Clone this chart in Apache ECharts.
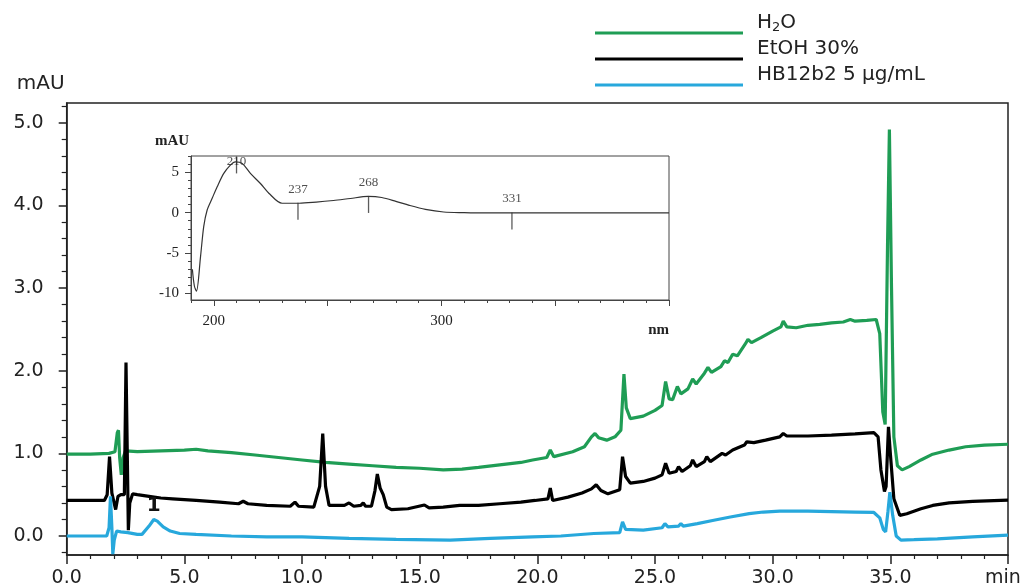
<!DOCTYPE html>
<html>
<head>
<meta charset="utf-8">
<script src="https://cdn.jsdelivr.net/npm/echarts@6/dist/echarts.min.js"></script>
<style>
  html, body { margin: 0; padding: 0; background: #fff; overflow: hidden; }
  #chart { width: 1032px; height: 588px; }
</style>
</head>
<body>
<div id="chart"></div>
<script>
// chromatograms (time in min, absorbance in mAU)
const h2oTime = [0, 1.0, 1.8, 2.05, 2.15, 2.2, 2.25, 2.32, 2.4, 2.5, 3.0, 4.0, 5.0, 5.5, 6.0, 7.0, 8.0, 9.0, 10.0, 11.0, 12.0, 13.0, 14.0, 15.0, 16.0, 16.8, 17.5, 18.4, 19.3, 19.8, 20.4, 20.55, 20.7, 21.5, 22.0, 22.3, 22.45, 22.6, 22.95, 23.3, 23.55, 23.68, 23.78, 23.95, 24.5, 25.0, 25.3, 25.45, 25.6, 25.75, 25.95, 26.1, 26.4, 26.6, 26.75, 27.1, 27.25, 27.4, 27.8, 27.95, 28.1, 28.3, 28.5, 28.85, 28.95, 29.1, 29.5, 30.0, 30.35, 30.45, 30.6, 31.0, 31.5, 32.0, 32.5, 33.0, 33.3, 33.5, 34.0, 34.4, 34.55, 34.68, 34.78, 34.88, 34.96, 35.05, 35.15, 35.3, 35.5, 35.8, 36.3, 36.8, 37.5, 38.2, 39.0, 40.0];
const h2oAbs = [0.99, 0.99, 1.0, 1.02, 1.25, 1.28, 0.95, 0.74, 0.95, 1.03, 1.02, 1.03, 1.04, 1.05, 1.03, 1.01, 0.98, 0.95, 0.92, 0.89, 0.87, 0.85, 0.83, 0.82, 0.8, 0.81, 0.83, 0.86, 0.89, 0.92, 0.95, 1.04, 0.96, 1.02, 1.08, 1.2, 1.24, 1.19, 1.16, 1.2, 1.28, 1.96, 1.55, 1.42, 1.45, 1.52, 1.58, 1.87, 1.66, 1.65, 1.81, 1.72, 1.78, 1.9, 1.84, 1.97, 2.04, 1.98, 2.05, 2.12, 2.1, 2.2, 2.18, 2.33, 2.38, 2.34, 2.4, 2.48, 2.53, 2.6, 2.53, 2.52, 2.55, 2.56, 2.58, 2.59, 2.62, 2.6, 2.61, 2.62, 2.45, 1.5, 1.35, 3.5, 4.92, 3.0, 1.2, 0.85, 0.8, 0.84, 0.92, 0.99, 1.04, 1.08, 1.1, 1.11];

const etohTime = [0, 1.6, 1.72, 1.82, 1.92, 2.0, 2.08, 2.18, 2.3, 2.45, 2.52, 2.56, 2.62, 2.68, 2.8, 3.0, 3.5, 4.0, 4.5, 5.5, 6.5, 7.3, 7.5, 7.7, 8.5, 9.5, 9.7, 9.85, 10.5, 10.75, 10.88, 11.0, 11.15, 11.8, 12.0, 12.2, 12.5, 12.6, 12.7, 12.95, 13.1, 13.2, 13.32, 13.45, 13.6, 13.8, 14.5, 15.2, 15.4, 16.0, 16.7, 17.5, 18.4, 19.3, 19.9, 20.45, 20.55, 20.65, 21.3, 21.9, 22.3, 22.5, 22.7, 23.0, 23.5, 23.62, 23.75, 23.95, 24.5, 25.0, 25.3, 25.45, 25.6, 25.9, 26.0, 26.15, 26.5, 26.6, 26.75, 27.1, 27.2, 27.35, 27.7, 27.85, 28.0, 28.3, 28.8, 28.9, 29.2, 29.7, 30.3, 30.45, 30.6, 31.5, 32.5, 33.5, 34.3, 34.48, 34.6, 34.75, 34.82, 34.92, 35.0, 35.15, 35.4, 35.7, 36.3, 36.8, 37.5, 38.5, 40.0];
const etohAbs = [0.43, 0.43, 0.5, 0.96, 0.52, 0.5, 0.32, 0.48, 0.5, 0.5, 2.1, 2.1, 0.07, 0.4, 0.51, 0.5, 0.48, 0.46, 0.45, 0.43, 0.41, 0.39, 0.42, 0.39, 0.37, 0.36, 0.41, 0.36, 0.35, 0.6, 1.24, 0.6, 0.37, 0.37, 0.4, 0.36, 0.37, 0.4, 0.36, 0.36, 0.55, 0.75, 0.58, 0.5, 0.35, 0.32, 0.33, 0.375, 0.34, 0.35, 0.37, 0.37, 0.39, 0.41, 0.43, 0.45, 0.58, 0.43, 0.47, 0.52, 0.57, 0.62, 0.55, 0.51, 0.56, 0.96, 0.72, 0.64, 0.66, 0.7, 0.74, 0.88, 0.76, 0.78, 0.84, 0.78, 0.85, 0.92, 0.84, 0.9, 0.96, 0.9, 0.97, 1.0, 0.98, 1.04, 1.1, 1.14, 1.13, 1.16, 1.2, 1.24, 1.21, 1.21, 1.22, 1.235, 1.25, 1.2, 0.8, 0.54, 0.6, 1.32, 1.0, 0.45, 0.25, 0.27, 0.33, 0.37, 0.4, 0.42, 0.435];

const hbTime = [0, 1.7, 1.8, 1.86, 1.92, 1.96, 2.02, 2.12, 2.3, 2.6, 3.0, 3.2, 3.5, 3.7, 3.85, 4.1, 4.4, 4.8, 5.5, 7.0, 8.5, 10.0, 12.0, 14.0, 16.3, 18.0, 19.8, 21.0, 22.4, 23.5, 23.62, 23.75, 24.5, 25.3, 25.42, 25.55, 26.0, 26.1, 26.2, 26.8, 27.5, 28.2, 29.0, 29.6, 30.3, 31.5, 32.5, 33.5, 34.3, 34.55, 34.7, 34.8, 34.9, 34.98, 35.1, 35.25, 35.45, 36.0, 37.0, 38.5, 40.0];
const hbAbs = [0.0, 0.0, 0.1, 0.48, 0.1, -0.22, -0.05, 0.06, 0.05, 0.04, 0.02, 0.02, 0.12, 0.2, 0.18, 0.11, 0.06, 0.03, 0.02, 0.0, -0.01, -0.01, -0.03, -0.04, -0.05, -0.03, -0.01, 0.0, 0.03, 0.04, 0.17, 0.08, 0.07, 0.1, 0.15, 0.11, 0.12, 0.15, 0.12, 0.15, 0.19, 0.23, 0.27, 0.29, 0.3, 0.3, 0.295, 0.29, 0.285, 0.22, 0.08, 0.05, 0.3, 0.53, 0.25, 0.0, -0.05, -0.045, -0.035, -0.01, 0.01];

const peakOne = [3.7, 0.2];

// UV spectrum inset
const spectrumNm = [190.6, 191.5, 192.4, 194.2, 195.6, 197.1, 199.3, 201.5, 204.4, 207.3, 209.5, 212.5, 216.1, 220.5, 224.2, 230, 237.5, 245, 252.6, 260, 267.8, 273.8, 280, 285.9, 293, 301, 310, 319, 340, 360, 380, 400];
const spectrumAbs = [-7, -9.1, -9.7, -5.4, -1.7, 0.33, 1.77, 3.2, 4.85, 5.87, 6.27, 6.07, 4.85, 3.6, 2.4, 1.16, 1.16, 1.3, 1.5, 1.75, 2.0, 1.87, 1.4, 0.9, 0.4, 0.08, 0.0, -0.04, -0.04, -0.04, -0.04, -0.04];
const peakNm = [210, 237, 268, 331];
const peakAbs = [6.27, 1.16, 2.0, -0.04];

// ticks
const yMajor = [0, 1, 2, 3, 4, 5];
const yMinor = [-0.2, 0.2, 0.4, 0.6, 0.8, 1.2, 1.4, 1.6, 1.8, 2.2, 2.4, 2.6, 2.8, 3.2, 3.4, 3.6, 3.8, 4.2, 4.4, 4.6, 4.8, 5.2];
const insetYMajor = [-10, -5, 0, 5];
const insetYMinor = [-9, -8, -7, -6, -4, -3, -2, -1, 1, 2, 3, 4, 6, 7];
const insetXMajor = [200, 250, 300, 350, 400];
const insetXMinor = [190, 210, 220, 230, 240, 260, 270, 280, 290, 310, 320, 330, 340, 360, 370, 380, 390];
const insetXLabels = [200, 300];

const seriesNames = ['H2O', 'EtOH 30%', 'HB12b2 5 µg/mL'];
const seriesColors = ['#1f9d55', '#000000', '#27a8dc'];

const zip = (xs, ys) => xs.map((x, i) => [x, ys[i]]);

const chart = echarts.init(document.getElementById('chart'));

const axisColor = '#222';
const sans = 'DejaVu Sans';
const serif = 'Liberation Serif';

const option = {
  animation: false,
  backgroundColor: '#fff',
  textStyle: { fontFamily: sans },
  legend: {
    type: 'plain',
    orient: 'vertical',
    left: 595,
    top: 12,
    padding: 0,
    itemGap: -16,
    itemWidth: 148,
    itemHeight: 3,
    icon: 'rect',
    selectedMode: false,
    data: seriesNames,
    formatter: (n) => (n === 'H2O' ? 'H{sub|2}O' : n),
    textStyle: {
      fontFamily: sans,
      fontSize: 20,
      color: '#222',
      lineHeight: 22,
      padding: [0, 0, 20, 9],
      rich: {
        sub: { fontFamily: sans, fontSize: 13, lineHeight: 22, verticalAlign: 'bottom' },
      },
    },
  },
  grid: [
    { left: 66.7, right: 24, top: 103, bottom: 33, show: true, borderColor: axisColor, borderWidth: 1.5, outerBoundsMode: 'none' },
    { left: 191, right: 363, top: 156, bottom: 288, show: true, borderColor: '#444', borderWidth: 1, outerBoundsMode: 'none' },
  ],
  xAxis: [
    {
      gridIndex: 0,
      type: 'value',
      position: 'bottom',
      min: 0,
      max: 40,
      interval: 5,
      axisLine: { onZero: false, lineStyle: { color: axisColor, width: 1.5 } },
      axisTick: { length: 9, lineStyle: { color: axisColor, width: 1.5 } },
      minorTick: { show: true, splitNumber: 5, length: 4, lineStyle: { color: axisColor, width: 1.2 } },
      axisLabel: {
        margin: 14,
        fontSize: 19,
        color: '#222',
        fontFamily: sans,
        hideOverlap: false,
        showMaxLabel: true,
        formatter: (v) => (v === 40 ? '{end|min}' : v.toFixed(1)),
        rich: {
          end: { fontFamily: sans, fontSize: 19, color: '#222', width: 46, align: 'left' },
        },
      },
      splitLine: { show: false },
    },
    {
      gridIndex: 1,
      type: 'value',
      position: 'bottom',
      min: 190,
      max: 400,
      name: 'nm',
      nameLocation: 'end',
      nameGap: 0,
      nameTextStyle: { fontFamily: serif, fontSize: 15, fontWeight: 'bold', color: '#222', align: 'right', verticalAlign: 'top', padding: [23, 0, 0, 0] },
      axisLine: { onZero: false, lineStyle: { color: '#444', width: 1 } },
      axisTick: { customValues: insetXMajor, length: 6, lineStyle: { color: '#444' } },
      axisLabel: { customValues: insetXLabels, margin: 14, fontFamily: serif, fontSize: 15, color: '#222' },
      splitLine: { show: false },
    },
    {
      gridIndex: 1,
      type: 'value',
      position: 'bottom',
      min: 190,
      max: 400,
      axisLine: { show: false, onZero: false },
      axisTick: { customValues: insetXMinor, length: 3, lineStyle: { color: '#444' } },
      axisLabel: { show: false },
      splitLine: { show: false },
    },
  ],
  yAxis: [
    {
      gridIndex: 0,
      type: 'value',
      position: 'left',
      min: -0.23,
      max: 5.24,
      name: 'mAU',
      nameLocation: 'end',
      nameGap: 9,
      nameTextStyle: { fontFamily: sans, fontSize: 20, color: '#222', align: 'center', padding: [0, 52, 0, 0] },
      axisLine: { show: true, onZero: false, lineStyle: { color: axisColor, width: 1.5 } },
      axisTick: { customValues: yMajor, length: 8, lineStyle: { color: axisColor, width: 1.5 } },
      axisLabel: { customValues: yMajor, margin: 23, fontSize: 19, color: '#222', fontFamily: sans, formatter: (v) => v.toFixed(1) },
      splitLine: { show: false },
    },
    {
      gridIndex: 0,
      type: 'value',
      position: 'left',
      min: -0.23,
      max: 5.24,
      axisLine: { show: false, onZero: false },
      axisTick: { customValues: yMinor, length: 5, lineStyle: { color: axisColor, width: 1.2 } },
      axisLabel: { show: false },
      splitLine: { show: false },
    },
    {
      gridIndex: 1,
      type: 'value',
      position: 'left',
      min: -10.8,
      max: 7,
      name: 'mAU',
      nameLocation: 'end',
      nameGap: 7,
      nameTextStyle: { fontFamily: serif, fontSize: 15, fontWeight: 'bold', color: '#222', align: 'center', padding: [0, 38, 0, 0] },
      axisLine: { show: true, onZero: false, lineStyle: { color: '#444', width: 1 } },
      axisTick: { customValues: insetYMajor, length: 6, lineStyle: { color: '#444' } },
      axisLabel: { customValues: insetYMajor, margin: 12, fontFamily: serif, fontSize: 15, color: '#222' },
      splitLine: { show: false },
    },
    {
      gridIndex: 1,
      type: 'value',
      position: 'left',
      min: -10.8,
      max: 7,
      axisLine: { show: false, onZero: false },
      axisTick: { customValues: insetYMinor, length: 3, lineStyle: { color: '#444' } },
      axisLabel: { show: false },
      splitLine: { show: false },
    },
  ],
  series: [
    {
      name: seriesNames[0],
      type: 'line',
      xAxisIndex: 0,
      yAxisIndex: 0,
      data: zip(h2oTime, h2oAbs),
      showSymbol: false,
      color: seriesColors[0],
      lineStyle: { width: 3.2, color: seriesColors[0] },
    },
    {
      name: seriesNames[1],
      type: 'line',
      xAxisIndex: 0,
      yAxisIndex: 0,
      data: zip(etohTime, etohAbs),
      showSymbol: false,
      color: seriesColors[1],
      lineStyle: { width: 3.2, color: seriesColors[1] },
    },
    {
      name: seriesNames[2],
      type: 'line',
      xAxisIndex: 0,
      yAxisIndex: 0,
      data: zip(hbTime, hbAbs),
      showSymbol: false,
      color: seriesColors[2],
      lineStyle: { width: 3.2, color: seriesColors[2] },
      markPoint: {
        symbol: 'circle',
        symbolSize: 1,
        itemStyle: { color: 'rgba(0,0,0,0)' },
        label: { show: true, position: 'inside', offset: [0, -14], formatter: '1', fontSize: 20, fontWeight: 'bold', color: '#111', fontFamily: sans },
        data: [{ coord: peakOne }],
      },
    },
    {
      name: 'spectrum',
      type: 'line',
      xAxisIndex: 1,
      yAxisIndex: 2,
      data: zip(spectrumNm, spectrumAbs),
      showSymbol: false,
      smooth: 0.3,
      lineStyle: { width: 1.2, color: '#333' },
      color: '#333',
    },
    {
      name: 'peaks',
      type: 'scatter',
      xAxisIndex: 1,
      yAxisIndex: 2,
      symbol: 'rect',
      symbolSize: [1.3, 17],
      symbolOffset: [0, 8],
      itemStyle: { color: '#333' },
      label: {
        show: true,
        position: 'inside',
        offset: [0, -22],
        formatter: (p) => String(p.value[0]),
        fontFamily: serif,
        fontSize: 13,
        color: '#222',
      },
      data: peakNm.map((n, i) =>
        i === 0
          ? { value: [n, peakAbs[i]], symbolOffset: [0, 3], label: { offset: [0, -3] } }
          : { value: [n, peakAbs[i]] }
      ),
    },
  ],
};

chart.setOption(option);
</script>
</body>
</html>
